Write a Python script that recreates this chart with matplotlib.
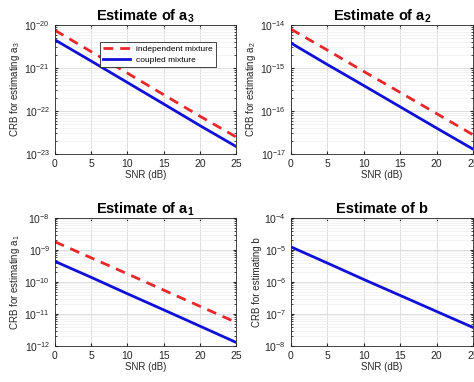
import matplotlib
matplotlib.use("Agg")
import matplotlib.pyplot as plt
import numpy as np

plt.rcParams['font.family'] = ['Liberation Sans', 'DejaVu Sans']
plt.rcParams['mathtext.fontset'] = 'custom'
plt.rcParams['mathtext.rm'] = 'Liberation Sans'
plt.rcParams['mathtext.bf'] = 'Liberation Sans:bold'

snr = [0, 5, 10, 15, 20, 25]

# CRB values
a3_indep = [7.5e-21, 2.4e-21, 7.6e-22, 2.4e-22, 7.6e-23, 2.5e-23]
a3_coupled = [4.5e-21, 1.45e-21, 4.6e-22, 1.46e-22, 4.6e-23, 1.5e-23]
a2_indep = [8.0e-15, 2.6e-15, 8.3e-16, 2.7e-16, 8.7e-17, 2.8e-17]
a2_coupled = [3.8e-15, 1.2e-15, 3.9e-16, 1.25e-16, 4.0e-17, 1.3e-17]
a1_indep = [1.8e-9, 5.7e-10, 1.8e-10, 5.6e-11, 1.75e-11, 5.5e-12]
a1_coupled = [4.4e-10, 1.4e-10, 4.3e-11, 1.35e-11, 4.2e-12, 1.3e-12]
b_coupled = [1.25e-5, 3.9e-6, 1.2e-6, 3.8e-7, 1.2e-7, 3.8e-8]

panels = [
    ("a", "3", a3_indep, a3_coupled, (1e-23, 1e-20)),
    ("a", "2", a2_indep, a2_coupled, (1e-17, 1e-14)),
    ("a", "1", a1_indep, a1_coupled, (1e-12, 1e-8)),
    ("b", None, None, b_coupled, (1e-8, 1e-4)),
]

fig = plt.figure(figsize=(4.74, 3.82), dpi=100)
W, H = 474, 382
boxes = [(55, 25, 236, 154), (291, 25, 473, 154),
         (55, 218, 236, 346), (291, 218, 473, 346)]

tick_col = '#262626'
for (name, sub, indep, coupled, ylim), (x0, y0, x1, y1) in zip(panels, boxes):
    ax = fig.add_axes([x0 / W, 1 - y1 / H, (x1 - x0) / W, (y1 - y0) / H])
    if indep is not None:
        ax.semilogy(snr, indep, color='#e8272a', ls=(0, (3.5, 2.5)), lw=2.0,
                    label='independent mixture')
    ax.semilogy(snr, coupled, color='#1010d8', lw=2.0, label='coupled mixture')
    ax.set_xlim(0, 25)
    ax.set_ylim(*ylim)
    ax.set_xticks([0, 5, 10, 15, 20, 25])
    ax.grid(True, which='major', color='#d8d8d8', lw=0.6)
    ax.grid(True, which='minor', axis='y', color='#eeeeee', lw=0.5)
    ax.tick_params(which='both', direction='in', colors=tick_col,
                   labelsize=7.5, length=2.5, top=True, right=True)
    ax.tick_params(which='minor', length=1.5)
    for s in ax.spines.values():
        s.set_color('#262626')
        s.set_linewidth(0.6)
    if sub is not None:
        ax.set_title(r"Estimate of a$_{\mathbf{%s}}$" % sub, fontsize=10.5,
                     fontweight='bold', pad=3.5)
        ax.set_ylabel(r"CRB for estimating a$_{%s}$" % sub, fontsize=7,
                      color=tick_col, labelpad=2)
    else:
        ax.set_title("Estimate of b", fontsize=10.5, fontweight='bold', pad=3.5)
        ax.set_ylabel("CRB for estimating b", fontsize=7, color=tick_col,
                      labelpad=2)
    ax.set_xlabel("SNR (dB)", fontsize=7, color=tick_col, labelpad=1)
    if name == "a" and sub == "3":
        leg = ax.legend(loc='upper right', fontsize=6, handlelength=3.2,
                        fancybox=False, framealpha=1, edgecolor='#262626',
                        borderpad=0.4, labelspacing=0.3,
                        bbox_to_anchor=(0.915, 0.9))
        leg.get_frame().set_linewidth(0.6)

fig.savefig("out.png", dpi=100)
